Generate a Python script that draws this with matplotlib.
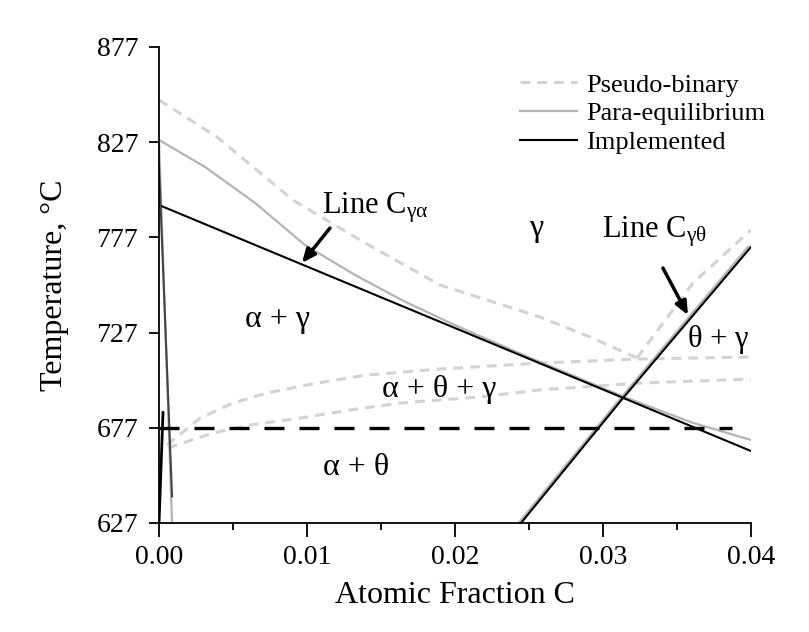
import matplotlib
matplotlib.use("Agg")
import matplotlib.pyplot as plt
from matplotlib.ticker import MultipleLocator, FormatStrFormatter

plt.rcParams['font.family'] = ['Liberation Serif', 'DejaVu Serif']
plt.rcParams['mathtext.fontset'] = 'custom'
plt.rcParams['mathtext.rm'] = 'Liberation Serif'
plt.rcParams['mathtext.it'] = 'Liberation Serif:italic'

# ---------------- data ----------------
# Implemented (black)
x_impl_ga = [0.0, 0.04]
T_impl_ga = [794.0, 664.8]
x_impl_gt = [0.02446, 0.03135, 0.04]
T_impl_gt = [627.0, 692.6, 772.0]
x_impl_a = [0.0, 0.00088]
T_impl_a = [815.0, 641.0]
x_impl_at = [0.0, 0.00027]
T_impl_at = [627.0, 685.0]
x_eutectoid = [0.0, 0.0387]
T_eutectoid = [677.0, 677.0]

# Para-equilibrium (gray solid)
x_para_ga = [0.0, 0.00311, 0.00649, 0.00986, 0.01324, 0.0165, 0.02, 0.025, 0.0315, 0.036, 0.04]
T_para_ga = [828.2, 814.0, 795.1, 773.0, 757.3, 743.7, 730.9, 714.0, 693.0, 679.8, 670.6]
x_para_gt = [0.0243, 0.0312, 0.0398]
T_para_gt = [627.0, 692.6, 772.0]
x_para_a = [0.0, 0.00088]
T_para_a = [828.0, 627.0]

# Pseudo-binary (light gray dashed)
x_pb_ga = [0.0, 0.00392, 0.00905, 0.01392, 0.01899, 0.02574, 0.02912, 0.0323]
T_pb_ga = [849.2, 829.7, 796.6, 774.1, 752.0, 735.2, 724.7, 713.7]
x_pb_gt = [0.0323, 0.03608, 0.04]
T_pb_gt = [713.7, 753.0, 780.9]
x_pb_up = [0.00054, 0.00277, 0.0050, 0.0073, 0.01068, 0.01405, 0.01899, 0.02574, 0.0323, 0.04]
T_pb_up = [668.0, 682.1, 690.0, 695.3, 700.5, 704.7, 707.9, 711.0, 713.1, 714.2]
x_pb_lo = [0.0006, 0.00365, 0.00615, 0.00953, 0.0129, 0.01628, 0.02169, 0.02574, 0.0325, 0.04]
T_pb_lo = [666.4, 674.3, 678.5, 682.1, 686.3, 690.0, 693.2, 696.9, 700.5, 702.6]

x_ticks = [0.00, 0.01, 0.02, 0.03, 0.04]
y_ticks = [627, 677, 727, 777, 827, 877]

# ---------------- figure ----------------
fig = plt.figure(figsize=(8.09, 6.32), dpi=100)
ax = fig.add_axes([159/809, 1-523/632, 592/809, 476/632])

pb_col = '#d3d3d3'
para_col = '#b4b4b4'
pb_kw = dict(color=pb_col, lw=2.2, dashes=(3.2, 2.3))
para_kw = dict(color=para_col, lw=1.6)
impl_kw = dict(color='black', lw=1.5)

# pseudo-binary
ax.plot(x_pb_ga, T_pb_ga, **pb_kw, label='Pseudo-binary')
ax.plot(x_pb_gt, T_pb_gt, **pb_kw)
ax.plot(x_pb_up, T_pb_up, **pb_kw)
ax.plot(x_pb_lo, T_pb_lo, **pb_kw)

# para-equilibrium
ax.plot(x_para_ga, T_para_ga, **para_kw, label='Para-equilibrium')
ax.plot(x_para_gt, T_para_gt, **para_kw)
ax.plot(x_para_a, T_para_a, **para_kw)

# implemented
ax.plot(x_impl_ga, T_impl_ga, **impl_kw, label='Implemented')
ax.plot(x_impl_gt, T_impl_gt, **impl_kw)
ax.plot(x_impl_a, T_impl_a, color='#444444', lw=1.5)
ax.plot(x_impl_at, T_impl_at, color='black', lw=2.0)
ax.plot(x_eutectoid, T_eutectoid, color='black', lw=2.4, dashes=(6.0, 4.5))

ax.set_xlim(0, 0.04)
ax.set_ylim(627, 877)
ax.set_xticks(x_ticks)
ax.set_yticks(y_ticks)
ax.xaxis.set_minor_locator(MultipleLocator(0.005))
ax.xaxis.set_major_formatter(FormatStrFormatter('%.2f'))
ax.tick_params(axis='both', which='major', labelsize=20, width=1.3, length=7, direction='out')
ax.tick_params(axis='y', which='major', pad=8)
ax.tick_params(axis='x', which='major', length=10, pad=6)
ax.tick_params(axis='x', which='minor', length=5, width=1.3, direction='out')
for s in ['top', 'right']:
    ax.spines[s].set_visible(False)
for s in ['left', 'bottom']:
    ax.spines[s].set_linewidth(1.3)

ax.set_xlabel('Atomic Fraction C', fontsize=23, labelpad=8)
ax.set_ylabel('Temperature, \u00b0C', fontsize=23, labelpad=20)

# region labels
fs = 23
ax.text(0.00804, 730, '\u03b1 + \u03b3', fontsize=fs, ha='center', va='baseline')
ax.text(0.01892, 693.2, '\u03b1 + \u03b8 + \u03b3', fontsize=fs, ha='center', va='baseline')
ax.text(0.01331, 652.2, '\u03b1 + \u03b8', fontsize=fs, ha='center', va='baseline')
ax.text(0.02547, 777.7, '\u03b3', fontsize=fs, ha='center', va='baseline')
ax.text(0.03574, 719.4, '\u03b8 + \u03b3', fontsize=22, ha='left', va='baseline')
ax.text(0.0110, 789.8, 'Line C$_{\\mathrm{\u03b3\u03b1}}$', fontsize=22, ha='left', va='baseline')
ax.text(0.02993, 776.7, 'Line C$_{\\mathrm{\u03b3\u03b8}}$', fontsize=22, ha='left', va='baseline')

arrow_kw = dict(arrowstyle='-|>,head_length=0.8,head_width=0.35', color='black', lw=2.5,
                shrinkA=0, shrinkB=0)
ax.annotate('', xy=(0.00966, 763.6), xytext=(0.01155, 781.9), arrowprops=arrow_kw)
ax.annotate('', xy=(0.03574, 736.2), xytext=(0.03405, 760.9), arrowprops=arrow_kw)

ax.legend(loc='upper left', bbox_to_anchor=(0.61, 0.945), frameon=False, fontsize=19,
          handlelength=2.15, handletextpad=0.35, labelspacing=0.2, borderpad=0, borderaxespad=0)

fig.savefig('out.png', dpi=100)
